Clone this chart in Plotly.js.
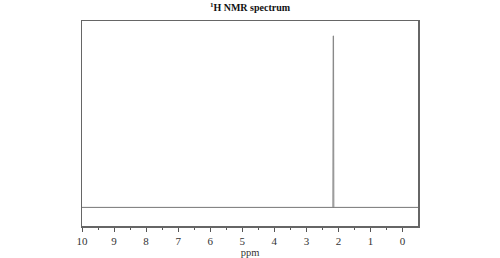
<!DOCTYPE html>
<html><head><meta charset="utf-8">
<script src="https://cdn.plot.ly/plotly-3.0.1.min.js"></script>
<style>html,body{margin:0;padding:0;background:#fff}#c{width:500px;height:258px}</style>
</head><body><div id="c"></div>
<script>
const ppm = [10, 2.175, 2.165, 2.155, 2.145, -0.48];
const intensity = [0, 0, 0.92, 0.92, 0, 0];
const tickVals = [10, 9, 8, 7, 6, 5, 4, 3, 2, 1, 0];
const tickText = ["10", "9", "8", "7", "6", "5", "4", "3", "2", "1", "0"];

const trace = {
  x: ppm, y: intensity, type: 'scatter', mode: 'lines',
  line: {color: '#888', width: 1}, hoverinfo: 'none'
};
const layout = {
  width: 500, height: 258,
  margin: {l: 82, r: 82, t: 21, b: 32},
  paper_bgcolor: '#fff', plot_bgcolor: '#fff',
  showlegend: false,
  title: {text: '<b><sup>1</sup>H NMR spectrum</b>', x: 0.5, xanchor: 'center', y: 0.985, yanchor: 'top',
          font: {family: 'Liberation Serif, Times New Roman, serif', size: 10, color: '#111'}},
  xaxis: {
    range: [10, -0.48], tickvals: tickVals, ticktext: tickText,
    ticks: 'outside', ticklen: 4, tickwidth: 1, tickcolor: '#555',
    minor: {dtick: 0.5, ticks: 'outside', ticklen: 2, tickwidth: 1, tickcolor: '#555'},
    showgrid: false, zeroline: false,
    showline: true, linecolor: '#666', linewidth: 1.5, mirror: true,
    tickfont: {family: 'Liberation Serif, Times New Roman, serif', size: 11, color: '#333'},
    title: {text: 'ppm', standoff: 2, font: {family: 'Liberation Serif, Times New Roman, serif', size: 10.5, color: '#333'}},
    fixedrange: true
  },
  yaxis: {
    range: [-0.1, 1.0], showticklabels: false, ticks: '',
    showgrid: false, zeroline: true, zerolinecolor: '#777', zerolinewidth: 1,
    showline: true, linecolor: '#666', linewidth: 1.5, mirror: true,
    fixedrange: true
  }
};
Plotly.newPlot('c', [trace], layout, {displayModeBar: false, staticPlot: true});
</script></body></html>
